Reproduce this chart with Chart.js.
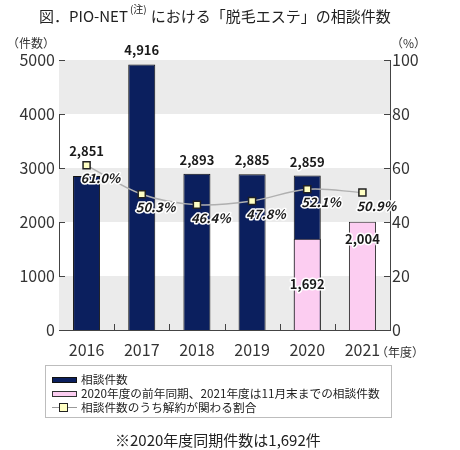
<!DOCTYPE html>
<html>
<head>
<meta charset="utf-8">
<script src="https://cdn.jsdelivr.net/npm/chart.js@4"></script>
<style>
  body { margin: 0; width: 460px; height: 450px; position: relative; overflow: hidden;
         font-family: "Noto Sans CJK JP", sans-serif; color: #222; background: #fff; }
  #wrap { position: absolute; left: 0; top: 0; width: 460px; height: 360px; }
  .txt { position: absolute; white-space: nowrap; line-height: 1; }
  #title { left: 39px; top: 7px; font-size: 15px; }
  #title sup { font-size: 10px; position: relative; top: -3px; margin: 0 4px 0 2px; }
  #unitL { right: 405px; top: 37px; font-size: 12px; color: #333; }
  #unitR { left: 391px; top: 37px; font-size: 12px; color: #333; }
  #unitX { left: 376px; top: 346px; font-size: 12px; color: #333; }
  #legend { position: absolute; left: 45px; top: 365px; width: 345px; height: 51px;
            border: 1px solid #bdbdbd; font-size: 11.7px; }
  .row { position: absolute; left: 0; height: 14px; width: 100%; }
  .row span { position: absolute; left: 35px; top: 0; line-height: 14px; }
  .sw { position: absolute; left: 6px; top: 5px; width: 23px; height: 4px; }
  #note { left: 115px; top: 432px; font-size: 15px; }
</style>
</head>
<body>
<div id="wrap"><canvas id="c"></canvas></div>
<div class="txt" id="title">図．PIO-NET<sup>(注)</sup>における「脱毛エステ」の相談件数</div>
<div class="txt" id="unitL">（件数）</div>
<div class="txt" id="unitR">（%）</div>
<div class="txt" id="unitX">（年度）</div>
<div id="legend">
  <div class="row" style="top:6px"><div class="sw" style="background:#0b1f5e;border:1px solid #111;"></div><span>相談件数</span></div>
  <div class="row" style="top:20px"><div class="sw" style="background:#fccdf1;border:1px solid #333;"></div><span>2020年度の前年同期、2021年度は11月末までの相談件数</span></div>
  <div class="row" style="top:34px">
    <div style="position:absolute;left:6px;top:7px;width:25px;height:1px;background:#999;"></div>
    <div style="position:absolute;left:13px;top:3px;width:7px;height:7px;background:#ffffc4;border:1.5px solid #222;"></div>
    <span>相談件数のうち解約が関わる割合</span></div>
</div>
<div class="txt" id="note">※2020年度同期件数は1,692件</div>

<script>
// years on the x axis
const years = ['2016', '2017', '2018', '2019', '2020', '2021'];
// full-year consultation counts
const counts = [2851, 4916, 2893, 2885, 2859, null];
// same-period counts (2020 up to prior-year period, 2021 through November)
const partialCounts = [null, null, null, null, 1692, 2004];
// share of consultations involving cancellation (%)
const cancelRates = [61.0, 50.3, 46.4, 47.8, 52.1, 50.9];

const NAVY = '#0b1f5e';
const PINK = '#fccdf1';
const TICK_FONT = { size: 16, family: '"Noto Sans CJK JP", sans-serif' };

// alternating grey bands behind the bars
const bandPlugin = {
  id: 'bands',
  beforeDatasetsDraw(chart) {
    const { ctx, chartArea: a, scales: { y } } = chart;
    ctx.save();
    ctx.fillStyle = '#ebebeb';
    for (let i = 0; i < y.ticks.length - 1; i += 2) {
      const y0 = y.getPixelForValue(y.ticks[i].value);
      const y1 = y.getPixelForValue(y.ticks[i + 1].value);
      ctx.fillRect(a.left, y1, a.right - a.left, y0 - y1);
    }
    ctx.restore();
  }
};

// short tick marks pointing into the plot
const innerTicks = {
  id: 'innerTicks',
  afterDraw(chart) {
    const { ctx, chartArea: a, scales: { x, y, y1 } } = chart;
    ctx.save();
    ctx.strokeStyle = '#444';
    ctx.lineWidth = 1;
    ctx.beginPath();
    y.ticks.forEach(t => {
      const py = Math.round(y.getPixelForValue(t.value)) + 0.5;
      ctx.moveTo(a.left, py); ctx.lineTo(a.left + 6, py);
    });
    y1.ticks.forEach(t => {
      const py = Math.round(y1.getPixelForValue(t.value)) + 0.5;
      ctx.moveTo(a.right - 6, py); ctx.lineTo(a.right, py);
    });
    for (let i = 1; i < years.length; i++) {
      const px = Math.round((x.getPixelForValue(i - 1) + x.getPixelForValue(i)) / 2) + 0.5;
      ctx.moveTo(px, a.bottom); ctx.lineTo(px, a.bottom - 6);
    }
    ctx.stroke();
    ctx.restore();
  }
};

function haloText(ctx, text, x, y) {
  ctx.strokeStyle = '#fff';
  ctx.lineWidth = 3;
  ctx.lineJoin = 'round';
  ctx.strokeText(text, x, y);
  ctx.fillText(text, x, y);
}

// value labels on bars and points
const valueLabels = {
  id: 'valueLabels',
  afterDatasetsDraw(chart) {
    const ctx = chart.ctx;
    const navy = chart.getDatasetMeta(0).data;
    const pink = chart.getDatasetMeta(1).data;
    const pts = chart.getDatasetMeta(2).data;
    ctx.save();
    ctx.fillStyle = '#1a1a1a';
    ctx.textBaseline = 'middle';
    ctx.font = 'bold 13px "Noto Sans CJK JP", sans-serif';
    ctx.textAlign = 'center';
    counts.forEach((v, i) => {
      if (v == null) return;
      const top = Math.min(navy[i].y, pts[i].y);
      haloText(ctx, v.toLocaleString('en-US'), navy[i].x, top - 14);
    });
    partialCounts.forEach((v, i) => {
      if (v == null) return;
      const b = pink[i];
      const py = counts[i] != null ? (b.y + b.base) / 2 : b.y + 17;
      haloText(ctx, v.toLocaleString('en-US'), b.x, py);
    });
    ctx.font = 'italic bold 13px "Noto Sans CJK JP", sans-serif';
    ctx.textAlign = 'left';
    cancelRates.forEach((v, i) => {
      haloText(ctx, v.toFixed(1) + '%', pts[i].x - 6, pts[i].y + 13);
    });
    ctx.restore();
  }
};

new Chart(document.getElementById('c'), {
  data: {
    labels: years,
    datasets: [
      {
        type: 'bar',
        label: '相談件数',
        data: counts,
        backgroundColor: NAVY,
        borderColor: '#111',
        borderWidth: 1,
        grouped: false,
        barPercentage: 0.49,
        categoryPercentage: 1,
        yAxisID: 'y',
        order: 3
      },
      {
        type: 'bar',
        label: '2020年度の前年同期、2021年度は11月末までの相談件数',
        data: partialCounts,
        backgroundColor: PINK,
        borderColor: '#222',
        borderWidth: 1,
        grouped: false,
        barPercentage: 0.49,
        categoryPercentage: 1,
        yAxisID: 'y',
        order: 2
      },
      {
        type: 'line',
        label: '相談件数のうち解約が関わる割合',
        data: cancelRates,
        borderColor: '#b0b0b0',
        borderWidth: 1.5,
        tension: 0.35,
        pointStyle: 'rect',
        pointRadius: 5,
        pointBackgroundColor: '#ffffc4',
        pointBorderColor: '#222',
        pointBorderWidth: 1.5,
        yAxisID: 'y1',
        order: 1
      }
    ]
  },
  options: {
    responsive: true,
    maintainAspectRatio: false,
    animation: false,
    layout: { padding: { top: 60 } },
    plugins: {
      legend: { display: false },
      tooltip: { enabled: false }
    },
    scales: {
      x: {
        offset: true,
        grid: { display: false },
        border: { color: '#444' },
        ticks: { color: '#333', padding: 2, font: TICK_FONT },
        afterFit(s) { s.height = 30; }
      },
      y: {
        position: 'left',
        min: 0, max: 5000,
        ticks: { stepSize: 1000, color: '#333', padding: 4, font: TICK_FONT, callback: v => String(v) },
        grid: { display: false, drawTicks: false },
        border: { color: '#444' },
        afterFit(s) { s.width = 59; }
      },
      y1: {
        position: 'right',
        min: 0, max: 100,
        ticks: { stepSize: 20, color: '#333', padding: 2, font: TICK_FONT, callback: v => String(v) },
        grid: { display: false, drawTicks: false },
        border: { color: '#444' },
        afterFit(s) { s.width = 70; }
      }
    }
  },
  plugins: [bandPlugin, innerTicks, valueLabels]
});
</script>
</body>
</html>
